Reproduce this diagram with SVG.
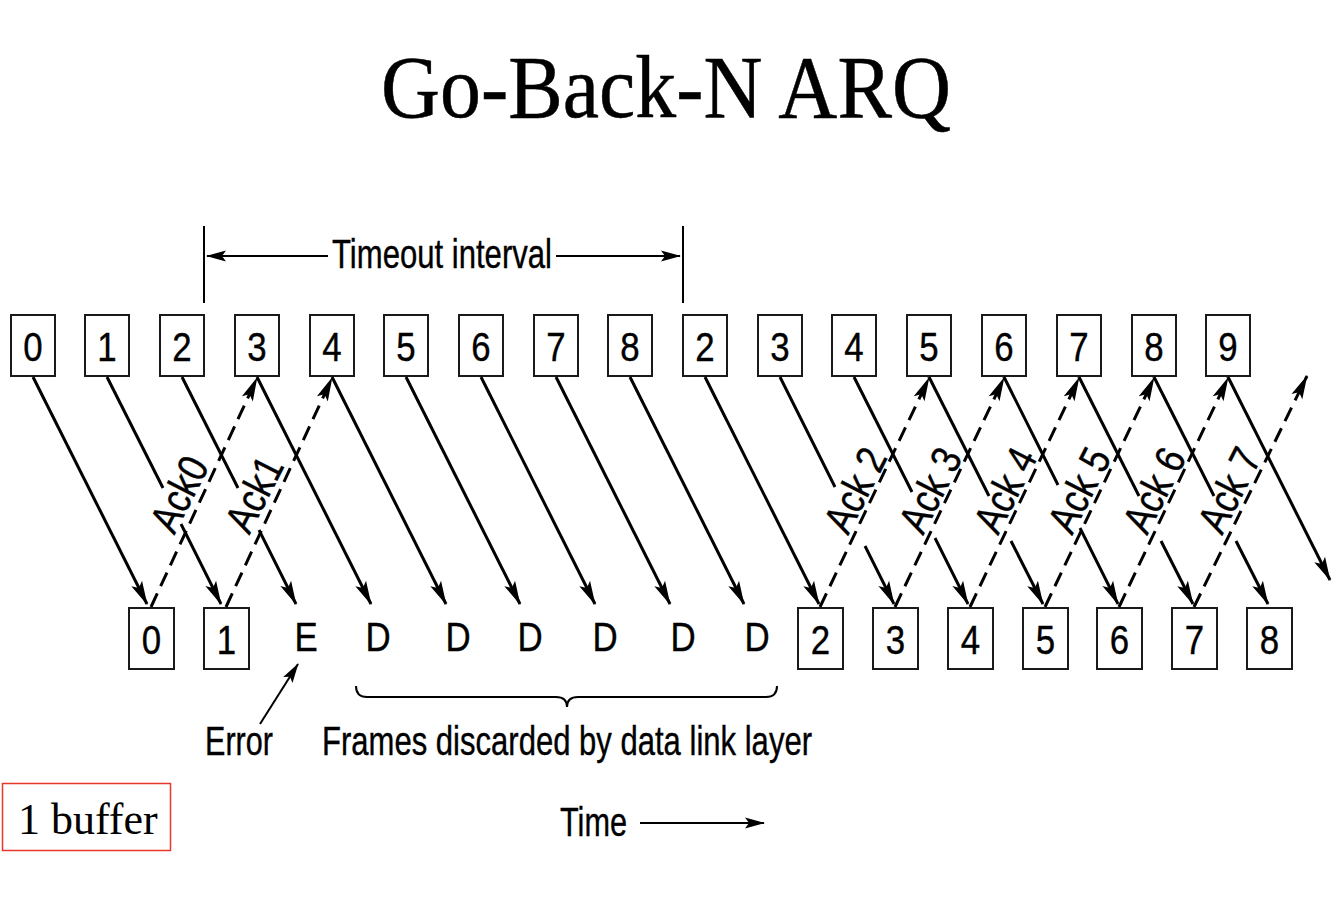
<svg xmlns="http://www.w3.org/2000/svg" width="1332" height="904" viewBox="0 0 1332 904">
<style>
.box{fill:#fff;stroke:#1a1a1a;stroke-width:2}
.sans{font-family:"Liberation Sans",Arial,Helvetica,sans-serif;fill:#000;stroke:#000;stroke-width:0.4}
.num{font-size:41px;text-anchor:middle}
.lbl{font-size:41px}
.ack{font-size:42px;text-anchor:middle;dominant-baseline:central}
.serif{font-family:"Liberation Serif","Times New Roman",serif;fill:#000}
.solid{stroke:#000;stroke-width:3;fill:none}
.dash{stroke:#000;stroke-width:3;fill:none;stroke-dasharray:15 8}
.thin{stroke:#000;stroke-width:2;fill:none}
</style>
<defs>
<marker id="ah" markerUnits="userSpaceOnUse" viewBox="-25 -7 27 14" markerWidth="27" markerHeight="14" refX="0" refY="0" orient="auto">
<path d="M1,0 L-23,-6 L-18,0 L-23,6 Z" fill="#000"/>
</marker>
<marker id="ah2" markerUnits="userSpaceOnUse" viewBox="-22 -7 24 14" markerWidth="24" markerHeight="14" refX="0" refY="0" orient="auto">
<path d="M1,0 L-19,-5.5 L-15,0 L-19,5.5 Z" fill="#000"/>
</marker>
</defs>
<rect width="1332" height="904" fill="#fff"/>

<text id="title" class="serif" x="666" y="117" font-size="88" text-anchor="middle" textLength="570" lengthAdjust="spacingAndGlyphs" stroke="#000" stroke-width="0.5">Go-Back-N ARQ</text>

<g id="timeout">
<line class="thin" x1="204" y1="226" x2="204" y2="303"/>
<line class="thin" x1="683" y1="226" x2="683" y2="303"/>
<line class="thin" x1="328" y1="256" x2="207" y2="256" marker-end="url(#ah2)"/>
<line class="thin" x1="556" y1="256" x2="680" y2="256" marker-end="url(#ah2)"/>
<text class="sans lbl" x="332" y="268" textLength="220" lengthAdjust="spacingAndGlyphs">Timeout interval</text>
</g>

<g id="sender">
<g id="s0"><rect class="box" x="11" y="315" width="44" height="61"/><text class="sans num" transform="translate(33,361) scale(0.85,1)">0</text></g>
<g id="s1"><rect class="box" x="85" y="315" width="44" height="61"/><text class="sans num" transform="translate(107,361) scale(0.85,1)">1</text></g>
<g id="s2"><rect class="box" x="160" y="315" width="44" height="61"/><text class="sans num" transform="translate(182,361) scale(0.85,1)">2</text></g>
<g id="s3"><rect class="box" x="235" y="315" width="44" height="61"/><text class="sans num" transform="translate(257,361) scale(0.85,1)">3</text></g>
<g id="s4"><rect class="box" x="310" y="315" width="44" height="61"/><text class="sans num" transform="translate(332,361) scale(0.85,1)">4</text></g>
<g id="s5"><rect class="box" x="384" y="315" width="44" height="61"/><text class="sans num" transform="translate(406,361) scale(0.85,1)">5</text></g>
<g id="s6"><rect class="box" x="459" y="315" width="44" height="61"/><text class="sans num" transform="translate(481,361) scale(0.85,1)">6</text></g>
<g id="s7"><rect class="box" x="534" y="315" width="44" height="61"/><text class="sans num" transform="translate(556,361) scale(0.85,1)">7</text></g>
<g id="s8"><rect class="box" x="608" y="315" width="44" height="61"/><text class="sans num" transform="translate(630,361) scale(0.85,1)">8</text></g>
<g id="s9"><rect class="box" x="683" y="315" width="44" height="61"/><text class="sans num" transform="translate(705,361) scale(0.85,1)">2</text></g>
<g id="s10"><rect class="box" x="758" y="315" width="44" height="61"/><text class="sans num" transform="translate(780,361) scale(0.85,1)">3</text></g>
<g id="s11"><rect class="box" x="832" y="315" width="44" height="61"/><text class="sans num" transform="translate(854,361) scale(0.85,1)">4</text></g>
<g id="s12"><rect class="box" x="907" y="315" width="44" height="61"/><text class="sans num" transform="translate(929,361) scale(0.85,1)">5</text></g>
<g id="s13"><rect class="box" x="982" y="315" width="44" height="61"/><text class="sans num" transform="translate(1004,361) scale(0.85,1)">6</text></g>
<g id="s14"><rect class="box" x="1057" y="315" width="44" height="61"/><text class="sans num" transform="translate(1079,361) scale(0.85,1)">7</text></g>
<g id="s15"><rect class="box" x="1132" y="315" width="44" height="61"/><text class="sans num" transform="translate(1154,361) scale(0.85,1)">8</text></g>
<g id="s16"><rect class="box" x="1206" y="315" width="44" height="61"/><text class="sans num" transform="translate(1228,361) scale(0.85,1)">9</text></g>
</g>

<g id="receiver">
<g id="r0"><rect class="box" x="129" y="608" width="45" height="61"/><text class="sans num" transform="translate(151.5,654) scale(0.85,1)">0</text></g>
<g id="r1"><rect class="box" x="204" y="608" width="45" height="61"/><text class="sans num" transform="translate(226.5,654) scale(0.85,1)">1</text></g>
<g id="rE"><text class="sans num" transform="translate(306,651) scale(0.85,1)">E</text></g>
<g id="rD1"><text class="sans num" transform="translate(378,651) scale(0.85,1)">D</text></g>
<g id="rD2"><text class="sans num" transform="translate(458,651) scale(0.85,1)">D</text></g>
<g id="rD3"><text class="sans num" transform="translate(530,651) scale(0.85,1)">D</text></g>
<g id="rD4"><text class="sans num" transform="translate(605,651) scale(0.85,1)">D</text></g>
<g id="rD5"><text class="sans num" transform="translate(683,651) scale(0.85,1)">D</text></g>
<g id="rD6"><text class="sans num" transform="translate(757,651) scale(0.85,1)">D</text></g>
<g id="r2"><rect class="box" x="798" y="608" width="45" height="61"/><text class="sans num" transform="translate(820.5,654) scale(0.85,1)">2</text></g>
<g id="r3"><rect class="box" x="873" y="608" width="45" height="61"/><text class="sans num" transform="translate(895.5,654) scale(0.85,1)">3</text></g>
<g id="r4"><rect class="box" x="948" y="608" width="45" height="61"/><text class="sans num" transform="translate(970.5,654) scale(0.85,1)">4</text></g>
<g id="r5"><rect class="box" x="1023" y="608" width="45" height="61"/><text class="sans num" transform="translate(1045.5,654) scale(0.85,1)">5</text></g>
<g id="r6"><rect class="box" x="1097" y="608" width="45" height="61"/><text class="sans num" transform="translate(1119.5,654) scale(0.85,1)">6</text></g>
<g id="r7"><rect class="box" x="1172" y="608" width="45" height="61"/><text class="sans num" transform="translate(1194.5,654) scale(0.85,1)">7</text></g>
<g id="r8"><rect class="box" x="1247" y="608" width="45" height="61"/><text class="sans num" transform="translate(1269.5,654) scale(0.85,1)">8</text></g>
</g>

<g id="connectors">
<!-- frames (solid) -->
<line class="solid" x1="33" y1="377" x2="147" y2="604" marker-end="url(#ah)"/>
<line class="solid" x1="107" y1="377" x2="163" y2="488"/>
<line class="solid" x1="181" y1="524" x2="221" y2="604" marker-end="url(#ah)"/>
<line class="solid" x1="182" y1="377" x2="238" y2="488"/>
<line class="solid" x1="259" y1="530" x2="296" y2="604" marker-end="url(#ah)"/>
<line class="solid" x1="257" y1="377" x2="371" y2="604" marker-end="url(#ah)"/>
<line class="solid" x1="332" y1="377" x2="446" y2="604" marker-end="url(#ah)"/>
<line class="solid" x1="406" y1="377" x2="520" y2="604" marker-end="url(#ah)"/>
<line class="solid" x1="481" y1="377" x2="595" y2="604" marker-end="url(#ah)"/>
<line class="solid" x1="556" y1="377" x2="670" y2="604" marker-end="url(#ah)"/>
<line class="solid" x1="630" y1="377" x2="744" y2="604" marker-end="url(#ah)"/>
<line class="solid" x1="705" y1="377" x2="819" y2="604" marker-end="url(#ah)"/>
<line class="solid" x1="780" y1="377" x2="835" y2="487"/>
<line class="solid" x1="865" y1="546" x2="894" y2="604" marker-end="url(#ah)"/>
<line class="solid" x1="854" y1="377" x2="912" y2="492"/>
<line class="solid" x1="935" y1="538" x2="968" y2="604" marker-end="url(#ah)"/>
<line class="solid" x1="929" y1="377" x2="989" y2="496"/>
<line class="solid" x1="1011" y1="541" x2="1043" y2="604" marker-end="url(#ah)"/>
<line class="solid" x1="1004" y1="377" x2="1058" y2="485"/>
<line class="solid" x1="1080" y1="528" x2="1118" y2="604" marker-end="url(#ah)"/>
<line class="solid" x1="1079" y1="377" x2="1139" y2="496"/>
<line class="solid" x1="1161" y1="541" x2="1193" y2="604" marker-end="url(#ah)"/>
<line class="solid" x1="1154" y1="377" x2="1214" y2="496"/>
<line class="solid" x1="1236" y1="541" x2="1268" y2="604" marker-end="url(#ah)"/>
<line class="solid" x1="1228" y1="377" x2="1330" y2="580" marker-end="url(#ah)"/>
<!-- acks (dashed) -->
<line class="dash" x1="151" y1="607" x2="257" y2="378" marker-end="url(#ah)"/>
<line class="dash" x1="226" y1="607" x2="332" y2="378" marker-end="url(#ah)"/>
<line class="dash" x1="820" y1="607" x2="929" y2="378" marker-end="url(#ah)"/>
<line class="dash" x1="895" y1="607" x2="1004" y2="378" marker-end="url(#ah)"/>
<line class="dash" x1="970" y1="607" x2="1079" y2="378" marker-end="url(#ah)"/>
<line class="dash" x1="1045" y1="607" x2="1154" y2="378" marker-end="url(#ah)"/>
<line class="dash" x1="1119" y1="607" x2="1228" y2="378" marker-end="url(#ah)"/>
<line class="dash" x1="1194" y1="607" x2="1307" y2="376" marker-end="url(#ah)"/>
<!-- error pointer and time arrow -->
<line class="thin" x1="260" y1="724" x2="298" y2="664" marker-end="url(#ah2)"/>
<line class="thin" x1="640" y1="823" x2="764" y2="823" marker-end="url(#ah2)"/>
<path class="thin" d="M356,686 Q356,697 367,697 L556,697 Q567,697 567,707 Q567,697 578,697 L766,697 Q777,697 777,686"/>
</g>

<g id="acklabels">
<text class="sans ack" transform="translate(179,494) rotate(-63) scale(0.84,1)">Ack0</text>
<text class="sans ack" transform="translate(254,494) rotate(-63) scale(0.84,1)">Ack1</text>
<text class="sans ack" transform="translate(855,490) rotate(-63) scale(0.84,1)">Ack 2</text>
<text class="sans ack" transform="translate(930,490) rotate(-63) scale(0.84,1)">Ack 3</text>
<text class="sans ack" transform="translate(1005,490) rotate(-63) scale(0.84,1)">Ack 4</text>
<text class="sans ack" transform="translate(1079,490) rotate(-63) scale(0.84,1)">Ack 5</text>
<text class="sans ack" transform="translate(1154,490) rotate(-63) scale(0.84,1)">Ack 6</text>
<text class="sans ack" transform="translate(1229,490) rotate(-63) scale(0.84,1)">Ack 7</text>
</g>

<g id="labels">
<text class="sans lbl" x="205" y="755" textLength="68" lengthAdjust="spacingAndGlyphs">Error</text>
<text class="sans lbl" x="322" y="755" textLength="490" lengthAdjust="spacingAndGlyphs">Frames discarded by data link layer</text>
<text class="sans lbl" x="560" y="836" textLength="67" lengthAdjust="spacingAndGlyphs">Time</text>
</g>

<g id="buffer">
<rect x="2.5" y="783.5" width="168" height="67" fill="none" stroke="#e8372c" stroke-width="1.5"/>
<text class="serif" x="18" y="834" font-size="44">1 buffer</text>
</g>
</svg>
